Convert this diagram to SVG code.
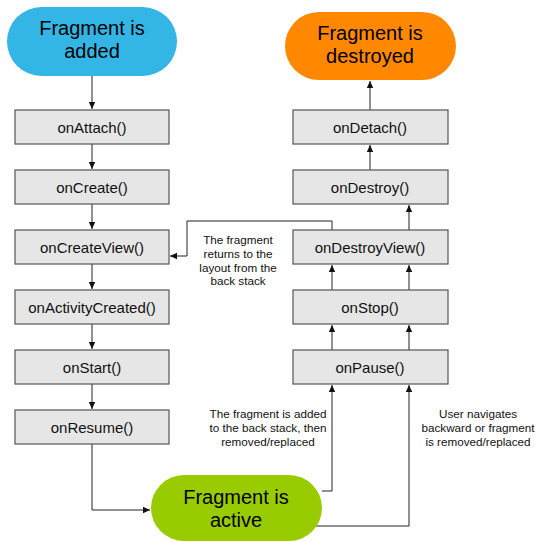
<svg xmlns="http://www.w3.org/2000/svg" width="536" height="542" viewBox="0 0 536 542">
<style>
.box{fill:#e6e6e6;stroke:#555;stroke-width:1.2}
.lbl{font-family:"Liberation Sans",Arial,sans-serif;font-size:15px;fill:#111;text-anchor:middle;dominant-baseline:central}
.big{font-family:"Liberation Sans",Arial,sans-serif;font-size:20px;fill:#000;text-anchor:middle;dominant-baseline:central}
.note{font-family:"Liberation Sans",Arial,sans-serif;font-size:11.7px;fill:#111;text-anchor:middle;dominant-baseline:central}
.ln{fill:none;stroke:#222;stroke-width:1}
</style>
<defs>
<marker id="ah" markerWidth="8" markerHeight="8" refX="7" refY="4" orient="auto" markerUnits="userSpaceOnUse">
<path d="M0,0.8 L7,4 L0,7.2 Z" fill="#111"/>
</marker>
</defs>
<g id="connectors">
<path class="ln" d="M92,76 V109" marker-end="url(#ah)"/>
<path class="ln" d="M92,144 V169" marker-end="url(#ah)"/>
<path class="ln" d="M92,204 V229" marker-end="url(#ah)"/>
<path class="ln" d="M92,264 V289" marker-end="url(#ah)"/>
<path class="ln" d="M92,324 V349" marker-end="url(#ah)"/>
<path class="ln" d="M92,384 V409" marker-end="url(#ah)"/>
<path class="ln" d="M92,444 V510 H150" marker-end="url(#ah)"/>
<path class="ln" d="M322,491 H332 V385" marker-end="url(#ah)"/>
<path class="ln" d="M313,526 H409 V385" marker-end="url(#ah)"/>
<path class="ln" d="M332,350 V325" marker-end="url(#ah)"/>
<path class="ln" d="M409,350 V325" marker-end="url(#ah)"/>
<path class="ln" d="M332,290 V265" marker-end="url(#ah)"/>
<path class="ln" d="M409,290 V265" marker-end="url(#ah)"/>
<path class="ln" d="M409,230 V205" marker-end="url(#ah)"/>
<path class="ln" d="M370,170 V145" marker-end="url(#ah)"/>
<path class="ln" d="M370,110 V81" marker-end="url(#ah)"/>
<path class="ln" d="M332,230 V221 H187 V256 H170" marker-end="url(#ah)"/>
<text class="note"><tspan x="238" y="239">The fragment</tspan><tspan x="238" y="253">returns to the</tspan><tspan x="238" y="267">layout from the</tspan><tspan x="238" y="280">back stack</tspan></text>
<text class="note"><tspan x="268" y="413">The fragment is added</tspan><tspan x="268" y="427">to the back stack, then</tspan><tspan x="268" y="441">removed/replaced</tspan></text>
<text class="note"><tspan x="478" y="413">User navigates</tspan><tspan x="478" y="427">backward or fragment</tspan><tspan x="478" y="441">is removed/replaced</tspan></text>
</g>
<g id="added">
<rect x="7" y="7" width="170" height="69" rx="34.5" fill="#33b5e5"/>
<text class="big"><tspan x="92" y="28">Fragment is</tspan><tspan x="92" y="51">added</tspan></text>
</g>
<g id="destroyed">
<rect x="285" y="12" width="171" height="68" rx="34" fill="#ff8800"/>
<text class="big"><tspan x="370" y="33">Fragment is</tspan><tspan x="370" y="56">destroyed</tspan></text>
</g>
<g id="active">
<rect x="151" y="475" width="171" height="66" rx="33" fill="#99cc00"/>
<text class="big"><tspan x="236" y="497">Fragment is</tspan><tspan x="236" y="520">active</tspan></text>
</g>
<g id="onAttach"><rect class="box" x="15" y="110" width="154" height="34"/><text class="lbl" x="92" y="127">onAttach()</text></g>
<g id="onCreate"><rect class="box" x="15" y="170" width="154" height="34"/><text class="lbl" x="92" y="187">onCreate()</text></g>
<g id="onCreateView"><rect class="box" x="15" y="230" width="154" height="34"/><text class="lbl" x="92" y="247">onCreateView()</text></g>
<g id="onActivityCreated"><rect class="box" x="15" y="290" width="154" height="34"/><text class="lbl" x="92" y="307">onActivityCreated()</text></g>
<g id="onStart"><rect class="box" x="15" y="350" width="154" height="34"/><text class="lbl" x="92" y="367">onStart()</text></g>
<g id="onResume"><rect class="box" x="15" y="410" width="154" height="34"/><text class="lbl" x="92" y="427">onResume()</text></g>
<g id="onDetach"><rect class="box" x="293" y="110" width="155" height="34"/><text class="lbl" x="370" y="127">onDetach()</text></g>
<g id="onDestroy"><rect class="box" x="293" y="170" width="155" height="34"/><text class="lbl" x="370" y="187">onDestroy()</text></g>
<g id="onDestroyView"><rect class="box" x="293" y="230" width="155" height="34"/><text class="lbl" x="370" y="247">onDestroyView()</text></g>
<g id="onStop"><rect class="box" x="293" y="290" width="155" height="34"/><text class="lbl" x="370" y="307">onStop()</text></g>
<g id="onPause"><rect class="box" x="293" y="350" width="155" height="34"/><text class="lbl" x="370" y="367">onPause()</text></g>
</svg>
